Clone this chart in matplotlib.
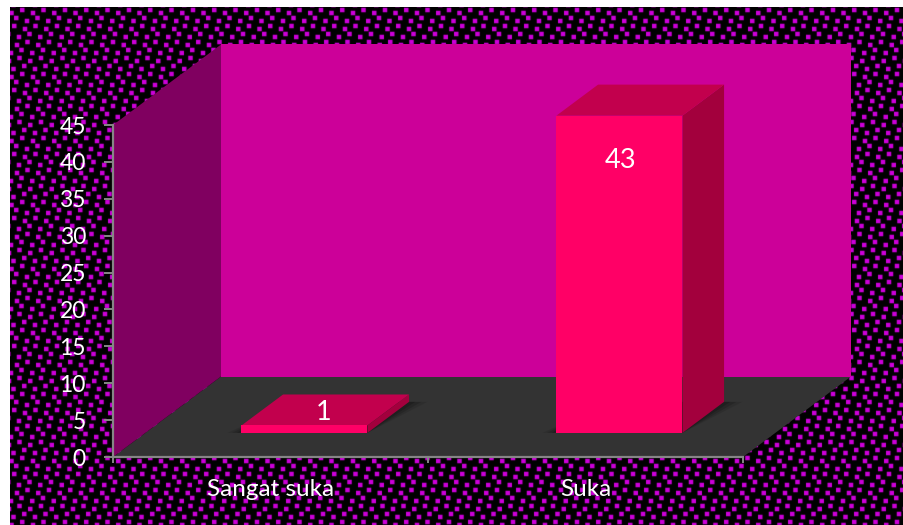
import numpy as np
import matplotlib
matplotlib.use("Agg")
import matplotlib.pyplot as plt
from matplotlib.patches import Polygon

categories = ["Sangat suka", "Suka"]
values = [1, 43]
y_ticks = list(range(0, 50, 5))

W, H = 904, 525
LEFT, RIGHT, BOTTOM, TOP = 113, 743, 457, 125
Y_MAX = 45
X_SCALE = (RIGHT - LEFT) / len(categories)
Y_SCALE = (BOTTOM - TOP) / Y_MAX
ROOM_DX = 108 / X_SCALE
ROOM_DY = 80.5 / Y_SCALE

WALL = "#CC0099"
SIDE_WALL = "#800060"
FLOOR = "#333333"
BAR_FRONT = "#FF0066"
BAR_TOP = "#C2004D"
BAR_SIDE = "#A3003D"
AXIS = "#868686"
BAR_WIDTH = 0.4
BAR_SHIFT = 0.005
BAR_NEAR, BAR_FAR = 0.30, 0.685


def dotted_background():
    """Black tile with a staggered weave of soft magenta dots, repeated over the page."""
    scale = 4
    size = 64 * scale
    mask = np.zeros((size, size))
    half = int(2.4 * scale)
    for row in range(8):
        for col in range(6):
            cx = (col * 10.667 - row * 4 + (row % 2) * 2 + 3) * scale
            cy = (row * 8 + (col % 2) * 3.2 + 2) * scale
            xs = np.arange(int(cx) - half, int(cx) + half) % size
            ys = np.arange(int(cy) - half, int(cy) + half) % size
            mask[np.ix_(ys, xs)] = 1
    mask = mask.reshape(64, scale, 64, scale).mean(axis=(1, 3))
    soft = sum(np.roll(np.roll(mask, i, 0), j, 1) * w
               for (i, j, w) in [(0, 0, .64), (1, 0, .09), (-1, 0, .09), (0, 1, .09), (0, -1, .09)])
    ny, nx = H // 64 + 2, W // 64 + 2
    page = np.tile(soft, (ny, nx))[:H, :W]
    rgb = np.zeros((H, W, 3))
    rgb[..., 0] = page * 0.8
    rgb[..., 2] = page * 0.85
    rgb[:7, :] = 1
    rgb[:, :10] = 1
    return rgb


def project(x, y, depth):
    """Map a category position, value and depth fraction onto the oblique view."""
    return (x + depth * ROOM_DX, y + depth * ROOM_DY)


def face(ax, corners, color, zorder, **kw):
    ax.add_patch(Polygon([project(*c) for c in corners], closed=True, facecolor=color,
                         edgecolor="none", clip_on=False, zorder=zorder, **kw))


plt.rcParams["font.family"] = ["Lato", "DejaVu Sans"]
fig = plt.figure(figsize=(W / 100, H / 100), dpi=100)

page_ax = fig.add_axes([0, 0, 1, 1], zorder=0)
page_ax.imshow(dotted_background(), interpolation="nearest", aspect="auto")
page_ax.axis("off")

ax = fig.add_axes([LEFT / W, 1 - BOTTOM / H, (RIGHT - LEFT) / W, (BOTTOM - TOP) / H], zorder=1)
ax.patch.set_alpha(0)
ax.set_xlim(0, len(categories))
ax.set_ylim(0, Y_MAX)

n = len(categories)
# Room: floor, back wall, side wall
face(ax, [(0, 0, 0), (n, 0, 0), (n, 0, 1), (0, 0, 1)], FLOOR, 1)
face(ax, [(0, 0, 1), (n, 0, 1), (n, Y_MAX, 1), (0, Y_MAX, 1)], WALL, 1)
face(ax, [(0, 0, 0), (0, 0, 1), (0, Y_MAX, 1), (0, Y_MAX, 0)], SIDE_WALL, 1)

for i, value in enumerate(values):
    x0 = i + 0.5 + BAR_SHIFT - BAR_WIDTH / 2
    x1 = i + 0.5 + BAR_SHIFT + BAR_WIDTH / 2
    near, far = BAR_NEAR, BAR_FAR

    # Soft contact shadow on the floor
    for grow, alpha in [(0.045, 0.10), (0.03, 0.14), (0.015, 0.18)]:
        face(ax, [(x0 - grow, 0, near), (x1, 0, near),
                  (x1 + grow * 1.3, 0, far), (x0 + grow, 0, far)], "black", 2, alpha=alpha)

    face(ax, [(x0, 0, near), (x1, 0, near), (x1, value, near), (x0, value, near)], BAR_FRONT, 4)
    face(ax, [(x1, 0, near), (x1, 0, far), (x1, value, far), (x1, value, near)], BAR_SIDE, 3)
    face(ax, [(x0, value, near), (x1, value, near), (x1, value, far), (x0, value, far)], BAR_TOP, 3)

    # Small value sits on the bar's top face, tall one inside its front face
    if value < 5:
        anchor, offset = project(i + 0.5, value, 0.5), (-0.5, -2)
    else:
        anchor, offset = project(i + 0.5, value, near), (2, -32)
    ax.annotate(str(value), xy=anchor, xytext=offset, textcoords="offset points",
                ha="center", va="center", color="white", fontsize=19.5, zorder=6,
                annotation_clip=False)

ax.set_yticks(y_ticks)
ax.set_xticks(range(n + 1))
ax.set_xticklabels([])
ax.set_xticks([i + 0.5 for i in range(n)], minor=True)
ax.set_xticklabels(categories, minor=True)
ax.tick_params(axis="x", which="minor", length=0, pad=16, labelsize=17.5, labelcolor="white")
ax.tick_params(axis="x", which="major", direction="out", length=4.5, width=1.4, color=AXIS)
ax.tick_params(axis="y", direction="out", length=6.5, width=1.4, color=AXIS, pad=13,
               labelsize=16.5, labelcolor="white")
for side in ("top", "right"):
    ax.spines[side].set_visible(False)
for side in ("left", "bottom"):
    ax.spines[side].set_color(AXIS)
    ax.spines[side].set_linewidth(1.6)
    ax.spines[side].set_zorder(5)

fig.savefig("out.png", dpi=100)
